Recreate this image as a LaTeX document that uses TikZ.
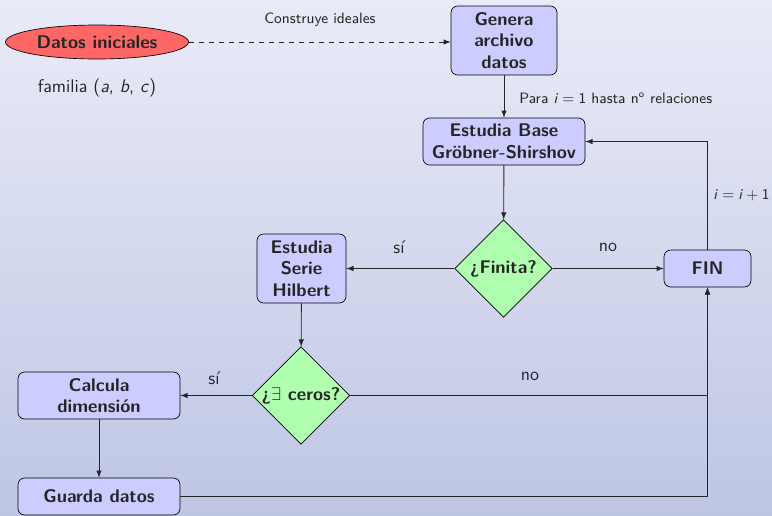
\documentclass[tikz,border=0pt]{standalone}
\usepackage{fontspec}
\usetikzlibrary{shapes.geometric}
\definecolor{bgtop}{RGB}{234,235,248}
\definecolor{bgbottom}{RGB}{190,198,228}
\definecolor{boxblue}{RGB}{204,204,255}
\definecolor{rombgreen}{RGB}{176,255,176}
\definecolor{datosred}{RGB}{255,102,102}
\begin{document}
\begin{tikzpicture}
[x=0.6pt,y=-0.6pt,
  every node/.style={font=\sffamily\fontsize{11}{13}\selectfont,text=black!85},
  boxdecorate/.style={shape=rectangle,rounded corners=4pt,draw,fill=boxblue,
    align=center,inner sep=0pt,font=\sffamily\bfseries\fontsize{11}{13}\selectfont},
  rombdecorate/.style={shape=diamond,aspect=1,draw,fill=rombgreen,inner sep=0pt,
    minimum size=58.5pt,font=\sffamily\bfseries\fontsize{11}{13}\selectfont},
  smalllabel/.style={font=\sffamily\fontsize{9}{11}\selectfont},
  linedecorate/.style={->,>=latex,line width=0.5pt,draw=black!85},
  elbowdecorate/.style={to path={-| (\tikztotarget)}}]
\useasboundingbox (0,0) rectangle (772,515);
\shade[top color=bgtop,bottom color=bgbottom] (0,0) rectangle (772,515);
%% nodes or blocks
\node (datos) at (97,42) [shape=ellipse,draw,fill=datosred,inner sep=0pt,
  minimum width=109.8pt,minimum height=20.4pt,
  font=\sffamily\bfseries\fontsize{11}{13}\selectfont] {Datos iniciales};
\foreach \nodename/\x/\y/\w/\h/\txt in {
  genera/504/40.5/63.6/41.4/{Genera\\archivo\\datos},
  base/504/141.5/97.2/28.2/{Estudia Base\\Gröbner-Shirshov},
  hilbert/301.5/268.5/53.4/41.4/{Estudia\\Serie\\Hilbert},
  fin/707.5/268.5/52.2/22.2/{FIN},
  calcula/99/395.5/97.2/28.2/{Calcula\\dimensión},
  guarda/99/496.5/97.2/22.2/{Guarda datos}}
{
  \node (\nodename) at (\x,\y) [boxdecorate,minimum width=\w pt,minimum height=\h pt] {\txt};
}
\node (finita) at (503.5,268.5) [rombdecorate] {¿Finita?};
\node (ceros) at (301,395.5) [rombdecorate] {¿$\exists$ ceros?};
%% labels
\node (familia) at (97,88) {familia (\textit{a}, \textit{b}, \textit{c})};
\node (construye) at (320,20) [smalllabel] {Construye ideales};
\node (para) at (519,98) [smalllabel,anchor=west,inner sep=0pt]
  {Para \textit{i}\;=\;1 hasta n\textsuperscript{o} relaciones};
\foreach \labelname/\x/\y/\txt in {
  si1/399/247/sí, no1/608/247/no, si2/214/378/sí, no2/530/376/no}
{
  \node (\labelname) at (\x,\y) {\txt};
}
%% edges or lines
\draw[linedecorate,dashed] (datos.east) -- (datos.east -| genera.west);
\path
\foreach \startnode/\endnode in {genera/base, base/finita, finita/hilbert,
  finita/fin, hilbert/ceros, ceros/calcula, calcula/guarda} {
  (\startnode) edge[linedecorate] (\endnode)
};
\draw[linedecorate] (fin.north) |- node[pos=0.25,right,smalllabel]
  {\textit{i}\;=\;\textit{i}\:+\:1} (base.east);
\path
\foreach \startnode in {ceros, guarda} {
  (\startnode.east) edge[linedecorate,elbowdecorate] (fin.south)
};
\end{tikzpicture}
\end{document}
